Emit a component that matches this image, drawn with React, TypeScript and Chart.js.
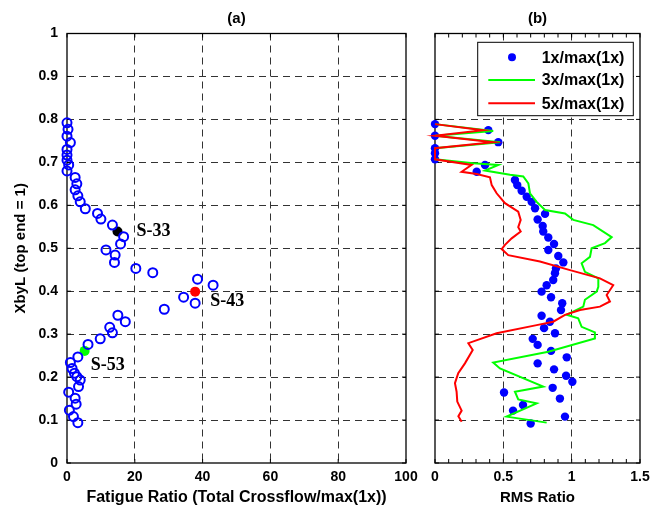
import React, { useEffect, useRef } from 'react';
import { Chart, registerables } from 'chart.js';

Chart.register(...registerables);

// ---------- Panel (a): fatigue ratio ----------
const fatigueX = [
  0.0, 0.3, 0.0, 1.0, 0.0, 0.0, 0.0, 0.5, 0.0, 2.4, 2.9, 2.4, 3.2, 3.9, 5.4, 9.0, 10.0, 13.4,
  16.7, 15.8, 11.5, 14.2, 14.0, 20.3, 25.3, 38.5, 43.1, 34.4, 37.8, 28.7, 15.0, 17.2, 12.6, 13.4,
  9.8, 6.2, 3.2, 1.0, 1.5, 2.2, 2.9, 3.9, 3.4, 0.5, 2.4, 2.7, 0.7, 1.9, 3.2,
];
const fatigueY = [
  0.792, 0.777, 0.761, 0.746, 0.730, 0.717, 0.705, 0.694, 0.680, 0.665, 0.650, 0.636, 0.622, 0.608,
  0.592, 0.581, 0.568, 0.554, 0.527, 0.510, 0.496, 0.484, 0.467, 0.453, 0.443, 0.428, 0.414, 0.386,
  0.372, 0.358, 0.344, 0.329, 0.316, 0.303, 0.289, 0.276, 0.247, 0.234, 0.220, 0.209, 0.201, 0.193,
  0.178, 0.165, 0.151, 0.137, 0.123, 0.108, 0.094,
];
const specialNames = ['S-33', 'S-43', 'S-53'];
const specialX = [14.9, 37.8, 5.2];
const specialY = [0.539, 0.399, 0.261];

// ---------- Panel (b): RMS ratio ----------
const rmsY = [
  0.789, 0.775, 0.762, 0.747, 0.733, 0.721, 0.707, 0.694, 0.678, 0.659, 0.647, 0.634, 0.620, 0.608,
  0.593, 0.580, 0.567, 0.552, 0.539, 0.525, 0.510, 0.496, 0.482, 0.467, 0.453, 0.442, 0.426, 0.414,
  0.399, 0.386, 0.372, 0.356, 0.343, 0.329, 0.314, 0.302, 0.289, 0.275, 0.261, 0.246, 0.232, 0.218,
  0.203, 0.189, 0.175, 0.164, 0.150, 0.135, 0.122, 0.108, 0.092,
];
const rms1x = [
  0.0, 0.390, 0.0, 0.463, 0.0, 0.0, 0.0, 0.366, 0.305, 0.585, 0.602, 0.634, 0.671, 0.707, 0.732,
  0.805, 0.751, 0.788, 0.792, 0.829, 0.871, 0.829, 0.902, 0.939, 0.885, 0.878, 0.865, 0.817, 0.780,
  0.849, 0.931, 0.922, 0.780, 0.841, 0.798, 0.878, 0.715, 0.751, 0.849, 0.964, 0.751, 0.871, 0.959,
  1.005, 0.861, 0.505, 0.914, 0.644, 0.571, 0.951, 0.700,
];
const rms3xX = [
  0.0, 0.426, 0.0, 0.476, 0.0, 0.0, 0.0, 0.280, 0.463, 0.366, 0.549, 0.646, 0.683, 0.695, 0.744,
  0.805, 0.951, 1.012, 1.158, 1.293, 1.244, 1.146, 1.134, 1.073, 1.097, 1.195, 1.195, 1.183, 1.097,
  1.085, 0.963, 1.048, 1.073, 1.170, 1.170, 0.829, 0.426, 0.475, 0.792, 0.585, 0.609, 0.744, 0.524,
  0.817,
];
const rms3xY = [
  0.789, 0.773, 0.762, 0.747, 0.733, 0.721, 0.707, 0.698, 0.694, 0.681, 0.671, 0.667, 0.651, 0.628,
  0.608, 0.589, 0.581, 0.566, 0.554, 0.526, 0.512, 0.500, 0.480, 0.465, 0.445, 0.430, 0.410, 0.399,
  0.380, 0.364, 0.345, 0.337, 0.317, 0.304, 0.290, 0.259, 0.234, 0.220, 0.178, 0.166, 0.148, 0.139,
  0.108, 0.094,
];
const rms5xX = [
  0.0, 0.353, 0.0, 0.426, 0.0, 0.0, 0.0, 0.268, 0.195, 0.305, 0.402, 0.415, 0.451, 0.512, 0.609,
  0.627, 0.609, 0.627, 0.561, 0.512, 0.488, 0.536, 0.768, 0.988, 1.207, 1.304, 1.256, 1.280, 1.207,
  1.061, 0.951, 0.865, 0.744, 0.451, 0.244, 0.276, 0.219, 0.170, 0.146, 0.158, 0.163, 0.195, 0.171,
  0.195,
];
const rms5xY = [
  0.789, 0.775, 0.762, 0.747, 0.733, 0.721, 0.707, 0.694, 0.678, 0.673, 0.665, 0.647, 0.628, 0.605,
  0.585, 0.566, 0.549, 0.539, 0.523, 0.508, 0.498, 0.484, 0.469, 0.449, 0.430, 0.414, 0.391, 0.376,
  0.364, 0.356, 0.345, 0.329, 0.321, 0.302, 0.279, 0.263, 0.232, 0.209, 0.186, 0.166, 0.143, 0.122,
  0.109, 0.096,
];

// ---------- Tick values ----------
const yTickValues = [0, 0.1, 0.2, 0.3, 0.4, 0.5, 0.6, 0.7, 0.8, 0.9, 1];
const aXTickValues = [0, 20, 40, 60, 80, 100];
const bXTickValues = [0, 0.5, 1, 1.5];
const bXMinorTicks = [0, 0.1, 0.2, 0.3, 0.4, 0.5, 0.6, 0.7, 0.8, 0.9, 1, 1.1, 1.2, 1.3, 1.4, 1.5];

const FONT = '"Liberation Sans", Arial, Helvetica, sans-serif';
const BLUE = '#0000ff';
const GREEN = '#00ff00';
const RED = '#ff0000';
const GRID = '#333333';

const pts = (xs: number[], ys: number[]) => xs.map((x, i) => ({ x, y: ys[i] }));

const gridColor = (min: number, max: number) => (ctx: any) => {
  const v = ctx.tick ? ctx.tick.value : null;
  if (v === null || Math.abs(v - min) < 1e-9 || Math.abs(v - max) < 1e-9) return 'rgba(0,0,0,0)';
  return GRID;
};

const fmt = (v: any) => String(Math.round(Number(v) * 10) / 10);

const framePlugin = {
  id: 'frame',
  beforeDatasetsDraw(chart: any, _args: any, opts: any) {
    const { ctx, chartArea: a, scales } = chart;
    const L = 4;
    ctx.save();
    ctx.setLineDash([]);
    ctx.strokeStyle = '#000';
    ctx.lineWidth = 1.3;
    ctx.strokeRect(a.left, a.top, a.right - a.left, a.bottom - a.top);
    ctx.beginPath();
    for (const v of opts.xTicks || []) {
      const px = scales.x.getPixelForValue(v);
      ctx.moveTo(px, a.bottom);
      ctx.lineTo(px, a.bottom - L);
      ctx.moveTo(px, a.top);
      ctx.lineTo(px, a.top + L);
    }
    for (const v of opts.yTicks || []) {
      const py = scales.y.getPixelForValue(v);
      ctx.moveTo(a.left, py);
      ctx.lineTo(a.left + L, py);
      ctx.moveTo(a.right, py);
      ctx.lineTo(a.right - L, py);
    }
    ctx.lineWidth = 1;
    ctx.stroke();
    ctx.restore();
  },
};

const labelDx = [19, 15, 6];
const labelDy = [0, 10, 14];
const pointLabelPlugin = {
  id: 'pointLabels',
  afterDatasetsDraw(chart: any) {
    const { ctx, scales } = chart;
    ctx.save();
    ctx.font = 'bold 18px "Liberation Serif", "Times New Roman", serif';
    ctx.fillStyle = '#000';
    ctx.textAlign = 'left';
    ctx.textBaseline = 'middle';
    specialNames.forEach((n, i) => {
      const px = scales.x.getPixelForValue(specialX[i]);
      const py = scales.y.getPixelForValue(specialY[i]);
      ctx.fillText(n, px + labelDx[i], py + labelDy[i]);
    });
    ctx.restore();
  },
};

const boxLegendPlugin = {
  id: 'boxLegend',
  afterDraw(chart: any) {
    const { ctx, chartArea: a } = chart;
    const left = a.left + 42.7;
    const top = a.top + 8.8;
    const w = a.right - 6.7 - left;
    const h = 73.4;
    ctx.save();
    ctx.setLineDash([]);
    ctx.fillStyle = '#fff';
    ctx.fillRect(left, top, w, h);
    ctx.strokeStyle = '#000';
    ctx.lineWidth = 1;
    ctx.strokeRect(left, top, w, h);
    const rows = [15, 37.7, 61];
    chart.data.datasets.forEach((ds: any, i: number) => {
      const y = top + rows[i];
      if (ds.showLine) {
        ctx.strokeStyle = ds.borderColor;
        ctx.lineWidth = 2;
        ctx.beginPath();
        ctx.moveTo(left + 10.6, y);
        ctx.lineTo(left + 57.3, y);
        ctx.stroke();
      } else {
        ctx.fillStyle = ds.pointBackgroundColor;
        ctx.beginPath();
        ctx.arc(left + 34.3, y, 4, 0, Math.PI * 2);
        ctx.fill();
      }
      ctx.fillStyle = '#000';
      ctx.font = `bold 16px ${FONT}`;
      ctx.textAlign = 'left';
      ctx.textBaseline = 'middle';
      ctx.fillText(ds.label, left + 64, y + 1);
    });
    ctx.restore();
  },
};

const tickFont = { family: FONT, size: 14, weight: 'bold' as const };
const titleFont = { family: FONT, size: 15, weight: 'bold' as const };
const wideTitleFont = { family: FONT, size: 16, weight: 'bold' as const };

function panelA(canvas: HTMLCanvasElement) {
  return new Chart(canvas, {
    type: 'scatter',
    data: {
      datasets: [
        {
          label: 'Fatigue',
          data: pts(fatigueX, fatigueY),
          pointStyle: 'circle',
          pointRadius: 4.5,
          pointBorderWidth: 2,
          pointBorderColor: BLUE,
          pointBackgroundColor: 'rgba(0,0,0,0)',
          clip: false,
        } as any,
        {
          label: specialNames[0],
          data: [{ x: specialX[0], y: specialY[0] }],
          pointRadius: 5,
          pointBorderWidth: 0,
          pointBackgroundColor: '#000000',
          clip: false,
        } as any,
        {
          label: specialNames[1],
          data: [{ x: specialX[1], y: specialY[1] }],
          pointRadius: 5,
          pointBorderWidth: 0,
          pointBackgroundColor: RED,
          clip: false,
        } as any,
        {
          label: specialNames[2],
          data: [{ x: specialX[2], y: specialY[2] }],
          pointRadius: 5,
          pointBorderWidth: 0,
          pointBackgroundColor: GREEN,
          clip: false,
        } as any,
      ],
    },
    options: {
      responsive: false,
      animation: false,
      events: [],
      layout: { padding: { left: 0, right: 14, top: 0, bottom: 0 } },
      plugins: {
        legend: { display: false },
        tooltip: { enabled: false },
        title: {
          display: true,
          fullSize: false,
          text: '(a)',
          color: '#000',
          font: titleFont,
          padding: { top: 10, bottom: 5.5 },
        },
        frame: { xTicks: aXTickValues, yTicks: yTickValues },
      } as any,
      scales: {
        x: {
          type: 'linear',
          min: 0,
          max: 100,
          afterBuildTicks: (s: any) => {
            s.ticks = aXTickValues.map((v) => ({ value: v }));
          },
          afterFit: (s: any) => {
            s.height = 45;
            s.paddingLeft = 0;
            s.paddingRight = 0;
          },
          grid: { drawTicks: false, lineWidth: 1, color: gridColor(0, 100) },
          border: { display: false, dash: [7, 5] },
          ticks: { padding: 6, color: '#000', font: tickFont, maxRotation: 0, autoSkip: false, callback: (v: any) => String(v) },
          title: {
            display: true,
            text: 'Fatigue Ratio (Total Crossflow/max(1x))',
            color: '#000',
            font: wideTitleFont,
            padding: { top: 0, bottom: 1 },
          },
        },
        y: {
          type: 'linear',
          min: 0,
          max: 1,
          afterBuildTicks: (s: any) => {
            s.ticks = yTickValues.map((v) => ({ value: v }));
          },
          afterFit: (s: any) => {
            s.width = 67;
            s.paddingTop = 0;
            s.paddingBottom = 0;
          },
          grid: { drawTicks: false, lineWidth: 1, color: gridColor(0, 1) },
          border: { display: false, dash: [7, 5] },
          ticks: { padding: 9, color: '#000', font: tickFont, autoSkip: false, callback: fmt },
          title: {
            display: true,
            text: 'XbyL (top end = 1)',
            color: '#000',
            font: titleFont,
            padding: { top: 12, bottom: 0 },
          },
        },
      },
    },
    plugins: [framePlugin, pointLabelPlugin],
  } as any);
}

function panelB(canvas: HTMLCanvasElement) {
  return new Chart(canvas, {
    type: 'scatter',
    data: {
      datasets: [
        {
          label: '1x/max(1x)',
          data: pts(rms1x, rmsY),
          pointRadius: 4.2,
          pointBorderWidth: 0,
          pointBackgroundColor: BLUE,
          showLine: false,
          order: 3,
          clip: false,
        } as any,
        {
          label: '3x/max(1x)',
          data: pts(rms3xX, rms3xY),
          showLine: true,
          borderColor: GREEN,
          borderWidth: 2,
          pointRadius: 0,
          tension: 0,
          order: 2,
          clip: false,
        } as any,
        {
          label: '5x/max(1x)',
          data: pts(rms5xX, rms5xY),
          showLine: true,
          borderColor: RED,
          borderWidth: 2,
          pointRadius: 0,
          tension: 0,
          order: 1,
          clip: false,
        } as any,
      ],
    },
    options: {
      responsive: false,
      animation: false,
      events: [],
      layout: { padding: { left: 0, right: 22, top: 0, bottom: 0 } },
      plugins: {
        legend: { display: false },
        tooltip: { enabled: false },
        title: {
          display: true,
          fullSize: false,
          text: '(b)',
          color: '#000',
          font: titleFont,
          padding: { top: 10, bottom: 5.5 },
        },
        frame: { xTicks: bXMinorTicks, yTicks: yTickValues },
      } as any,
      scales: {
        x: {
          type: 'linear',
          min: 0,
          max: 1.5,
          afterBuildTicks: (s: any) => {
            s.ticks = bXTickValues.map((v) => ({ value: v }));
          },
          afterFit: (s: any) => {
            s.height = 45;
            s.paddingLeft = 0;
            s.paddingRight = 0;
          },
          grid: { drawTicks: false, lineWidth: 1, color: gridColor(0, 1.5) },
          border: { display: false, dash: [7, 5] },
          ticks: { padding: 6, color: '#000', font: tickFont, maxRotation: 0, autoSkip: false, callback: fmt },
          title: {
            display: true,
            text: 'RMS Ratio',
            color: '#000',
            font: titleFont,
            padding: { top: 0, bottom: 1 },
          },
        },
        y: {
          type: 'linear',
          min: 0,
          max: 1,
          afterBuildTicks: (s: any) => {
            s.ticks = yTickValues.map((v) => ({ value: v }));
          },
          afterFit: (s: any) => {
            s.width = 15;
            s.paddingTop = 0;
            s.paddingBottom = 0;
          },
          grid: { drawTicks: false, lineWidth: 1, color: gridColor(0, 1) },
          border: { display: false, dash: [7, 5] },
          ticks: { display: false },
        },
      },
    },
    plugins: [framePlugin, boxLegendPlugin],
  } as any);
}

export default function App() {
  const refA = useRef<HTMLCanvasElement | null>(null);
  const refB = useRef<HTMLCanvasElement | null>(null);

  useEffect(() => {
    const a = refA.current ? panelA(refA.current) : null;
    const b = refB.current ? panelB(refB.current) : null;
    return () => {
      a?.destroy();
      b?.destroy();
    };
  }, []);

  return (
    <div style={{ position: 'fixed', left: 0, top: 0, width: 662, height: 508, background: '#fff' }}>
      <canvas ref={refA} width={420} height={508} style={{ position: 'absolute', left: 0, top: 0 }} />
      <canvas ref={refB} width={242} height={508} style={{ position: 'absolute', left: 420, top: 0 }} />
    </div>
  );
}
